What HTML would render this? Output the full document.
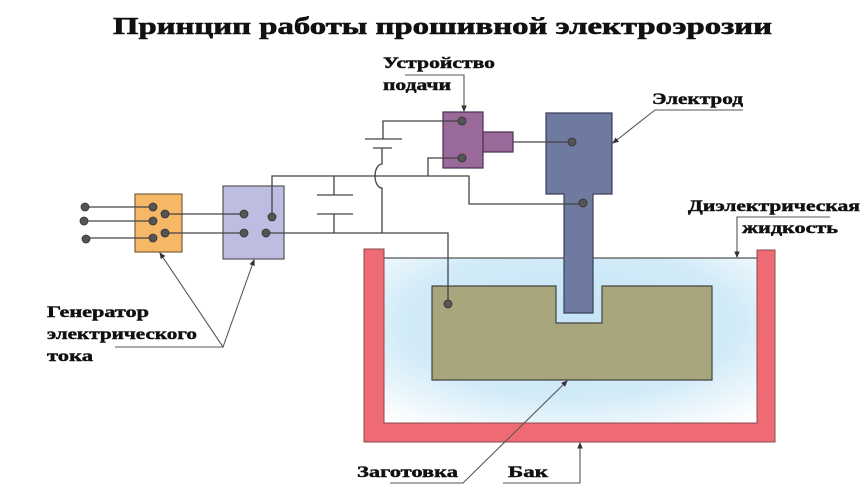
<!DOCTYPE html>
<html><head><meta charset="utf-8"><style>
html,body{margin:0;padding:0;background:#fff;}
svg{display:block;}
text{font-family:"Liberation Serif","DejaVu Serif",serif;font-weight:bold;fill:#111;stroke:#111;stroke-width:0.45;}
</style></head><body>
<svg width="868" height="490" viewBox="0 0 868 490" xmlns="http://www.w3.org/2000/svg">
<defs>
<radialGradient id="liq" cx="0.5" cy="0.4" r="0.75">
<stop offset="0" stop-color="#c4e4f5"/><stop offset="0.6" stop-color="#d2ebf8"/><stop offset="1" stop-color="#ffffff"/>
</radialGradient>
<marker id="ar" markerWidth="6" markerHeight="6" refX="5" refY="3" orient="auto"><path d="M0,0.5 L6,3 L0,5.5z" fill="#333"/></marker>
</defs>
<text x="113" y="34" font-size="24" textLength="659" lengthAdjust="spacingAndGlyphs" style="stroke-width:0.6">Принцип работы прошивной электроэрозии</text>

<rect x="384" y="258" width="373" height="165" fill="url(#liq)"/>
<path d="M364,249 H384 V423 H757 V250 H775 V442 H364 Z" fill="#ef6b73" stroke="#8a4a4e" stroke-width="1"/>
<line x1="384" y1="258" x2="757" y2="258" stroke="#555" stroke-width="1.2"/>
<path d="M432,286 H556 V323 H602 V286 H712 V380 H432 Z" fill="#a7a67d" stroke="#444" stroke-width="1.2"/>
<path d="M546,113 H612 V194 H593 V313 H564 V194 H546 Z" fill="#6e7aa0" stroke="#3a3f5a" stroke-width="1.2"/>
<rect x="483" y="132" width="30" height="20" fill="#9a6a9a" stroke="#4a3050" stroke-width="1.2"/>
<rect x="443" y="112" width="40" height="56" fill="#9a6a9a" stroke="#4a3050" stroke-width="1.2"/>
<rect x="135" y="194" width="47" height="58" fill="#f6b766" stroke="#7a6040" stroke-width="1.2"/>
<rect x="223" y="186" width="61" height="73" fill="#bcbde0" stroke="#555" stroke-width="1.2"/>

<g stroke="#444" stroke-width="1.3" fill="none">
<line x1="85" y1="207" x2="153" y2="207"/><line x1="85" y1="221" x2="153" y2="221"/><line x1="85" y1="238" x2="153" y2="238"/>
<line x1="165" y1="214" x2="244" y2="214"/><line x1="165" y1="233" x2="244" y2="233"/>
<polyline points="266,233 448,233 448,304"/>
<polyline points="272,217 272,176 469,176 469,204 583,204"/>
<polyline points="428,176 428,158 462,158"/>
<polyline points="513,142 572,142"/>
<line x1="334" y1="176" x2="334" y2="195"/><line x1="317" y1="195" x2="353" y2="195"/>
<line x1="317" y1="214" x2="353" y2="214"/><line x1="334" y1="214" x2="334" y2="233"/>
<path d="M382,233 V188 A7,12 0 0 1 382,164 V148"/>
<line x1="373" y1="148" x2="392" y2="148"/><line x1="365" y1="139" x2="402" y2="139"/>
<polyline points="383,139 383,121 462,121"/>
</g>
<g fill="#555" stroke="#333" stroke-width="0.8">
<circle cx="85" cy="207" r="4"/><circle cx="84" cy="221" r="4"/><circle cx="86" cy="239" r="4"/>
<circle cx="153" cy="207" r="4"/><circle cx="153" cy="221" r="4"/><circle cx="153" cy="238" r="4"/>
<circle cx="165" cy="214" r="4"/><circle cx="165" cy="233" r="4"/>
<circle cx="244" cy="214" r="4"/><circle cx="244" cy="233" r="4"/><circle cx="272" cy="217" r="4"/><circle cx="266" cy="233" r="4"/>
<circle cx="462" cy="121" r="4"/><circle cx="462" cy="158" r="4"/>
<circle cx="572" cy="142" r="4"/><circle cx="583" cy="203" r="4"/><circle cx="448" cy="304" r="4"/>
</g>

<g stroke="#555" stroke-width="1.1" fill="none">
<polyline points="405,75 464,75 464,111" marker-end="url(#ar)"/>
<polyline points="743,110 655,110 613,143" marker-end="url(#ar)"/>
<polyline points="830,217 737,217 737,257" marker-end="url(#ar)"/>
<polyline points="115,347 223,347 160,253" marker-end="url(#ar)"/>
<line x1="223" y1="347" x2="254" y2="260" marker-end="url(#ar)"/>
<polyline points="390,483 463,483 567,381" marker-end="url(#ar)"/>
<polyline points="503,483 580,483 580,443" marker-end="url(#ar)"/>
</g>

<g font-size="16">
<text x="383" y="68" textLength="112" lengthAdjust="spacingAndGlyphs">Устройство</text>
<text x="383" y="90" textLength="68" lengthAdjust="spacingAndGlyphs">подачи</text>
<text x="652" y="104" textLength="91" lengthAdjust="spacingAndGlyphs">Электрод</text>
<text x="688" y="211" textLength="172" lengthAdjust="spacingAndGlyphs">Диэлектрическая</text>
<text x="742" y="233" textLength="96" lengthAdjust="spacingAndGlyphs">жидкость</text>
<text x="47" y="317" textLength="102" lengthAdjust="spacingAndGlyphs">Генератор</text>
<text x="47" y="339" textLength="150" lengthAdjust="spacingAndGlyphs">электрического</text>
<text x="47" y="361" textLength="46" lengthAdjust="spacingAndGlyphs">тока</text>
<text x="357" y="477" textLength="101" lengthAdjust="spacingAndGlyphs">Заготовка</text>
<text x="508" y="477" textLength="40" lengthAdjust="spacingAndGlyphs">Бак</text>
</g>
</svg>
</body></html>
